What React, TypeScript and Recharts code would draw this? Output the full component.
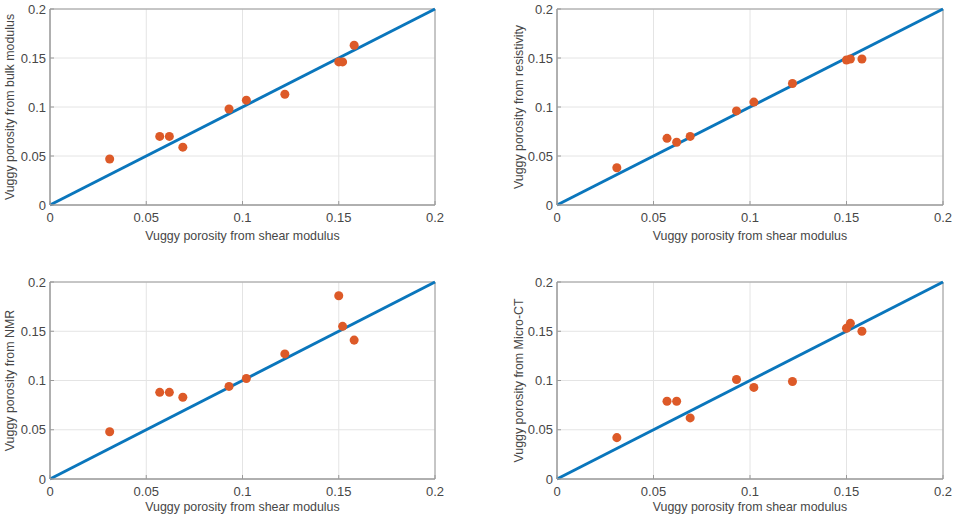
import React from 'react';
import {
  ScatterChart,
  Scatter,
  XAxis,
  YAxis,
  ZAxis,
  CartesianGrid,
  ReferenceLine,
  ReferenceArea,
} from 'recharts';

// Vuggy porosity estimates per sample
const shearModulus = [0.031, 0.057, 0.062, 0.069, 0.093, 0.102, 0.122, 0.150, 0.152, 0.158];
const bulkModulus = [0.047, 0.070, 0.070, 0.059, 0.098, 0.107, 0.113, 0.146, 0.146, 0.163];
const resistivity = [0.038, 0.068, 0.064, 0.070, 0.096, 0.105, 0.124, 0.148, 0.149, 0.149];
const nmr = [0.048, 0.088, 0.088, 0.083, 0.094, 0.102, 0.127, 0.186, 0.155, 0.141];
const microCT = [0.042, 0.079, 0.079, 0.062, 0.101, 0.093, 0.099, 0.153, 0.158, 0.150];

const axisTicks = [0, 0.05, 0.1, 0.15, 0.2];
const axisDomain: [number, number] = [0, 0.2];
const identityLine = [0, 0.2];

const xLabel = 'Vuggy porosity from shear modulus';

const FONT = '"Liberation Sans", Arial, Helvetica, sans-serif';
const DOT = '#DD5A28';
const LINE = '#0A76BC';
const AXIS = '#9a9a9a';
const TEXT = '#474747';

type PanelProps = {
  left: number;
  top: number;
  width: number;
  height: number;
  marginTop: number;
  marginRight: number;
  yAxisWidth: number;
  xAxisHeight: number;
  yLabel: string;
  yLabelDx: number;
  values: number[];
};

function Panel(p: PanelProps) {
  const data = shearModulus.map((x, i) => ({ x, y: p.values[i] }));
  const tickStyle = { fill: TEXT, fontSize: 13, fontFamily: FONT };
  const labelStyle = { fill: TEXT, fontSize: 12.4, fontFamily: FONT };
  return (
    <div style={{ position: 'absolute', left: p.left, top: p.top }}>
      <ScatterChart
        width={p.width}
        height={p.height}
        margin={{ top: p.marginTop, right: p.marginRight, left: 0, bottom: 0 }}
      >
        <CartesianGrid stroke="#e4e4e4" strokeWidth={1} />
        <XAxis
          type="number"
          dataKey="x"
          domain={axisDomain}
          ticks={axisTicks}
          allowDataOverflow
          height={p.xAxisHeight}
          stroke={AXIS}
          tickSize={-4}
          tickMargin={12}
          tick={tickStyle}
          label={{ value: xLabel, position: 'center', dy: 8, ...labelStyle }}
        />
        <YAxis
          type="number"
          dataKey="y"
          domain={axisDomain}
          ticks={axisTicks}
          allowDataOverflow
          width={p.yAxisWidth}
          stroke={AXIS}
          tickSize={-4}
          tickMargin={8}
          tick={tickStyle}
          label={{
            value: p.yLabel,
            angle: -90,
            position: 'center',
            dx: p.yLabelDx,
            ...labelStyle,
          }}
        />
        <ZAxis range={[52, 52]} />
        <ReferenceArea
          x1={axisDomain[0]}
          x2={axisDomain[1]}
          y1={axisDomain[0]}
          y2={axisDomain[1]}
          fill="none"
          fillOpacity={0}
          stroke={AXIS}
          strokeWidth={1}
          ifOverflow="visible"
        />
        <ReferenceLine
          segment={[
            { x: identityLine[0], y: identityLine[0] },
            { x: identityLine[1], y: identityLine[1] },
          ]}
          stroke={LINE}
          strokeWidth={3}
          ifOverflow="visible"
        />
        <Scatter
          data={data}
          fill={DOT}
          shape="circle"
          isAnimationActive={false}
          legendType="none"
        />
      </ScatterChart>
    </div>
  );
}

export default function App() {
  return (
    <div
      style={{
        position: 'absolute',
        left: 0,
        top: 0,
        width: 956,
        height: 518,
        background: '#ffffff',
        overflow: 'hidden',
      }}
    >
      <Panel
        left={0}
        top={0}
        width={460}
        height={250}
        marginTop={9}
        marginRight={25}
        yAxisWidth={50}
        xAxisHeight={45}
        yLabel="Vuggy porosity from bulk modulus"
        yLabelDx={-15}
        values={bulkModulus}
      />
      <Panel
        left={480}
        top={0}
        width={476}
        height={250}
        marginTop={9}
        marginRight={13}
        yAxisWidth={77}
        xAxisHeight={45}
        yLabel="Vuggy porosity from resistivity"
        yLabelDx={0}
        values={resistivity}
      />
      <Panel
        left={0}
        top={270}
        width={460}
        height={248}
        marginTop={12}
        marginRight={25}
        yAxisWidth={50}
        xAxisHeight={39}
        yLabel="Vuggy porosity from NMR"
        yLabelDx={-15}
        values={nmr}
      />
      <Panel
        left={480}
        top={270}
        width={476}
        height={248}
        marginTop={12}
        marginRight={13}
        yAxisWidth={77}
        xAxisHeight={39}
        yLabel="Vuggy porosity from Micro-CT"
        yLabelDx={0}
        values={microCT}
      />
    </div>
  );
}
